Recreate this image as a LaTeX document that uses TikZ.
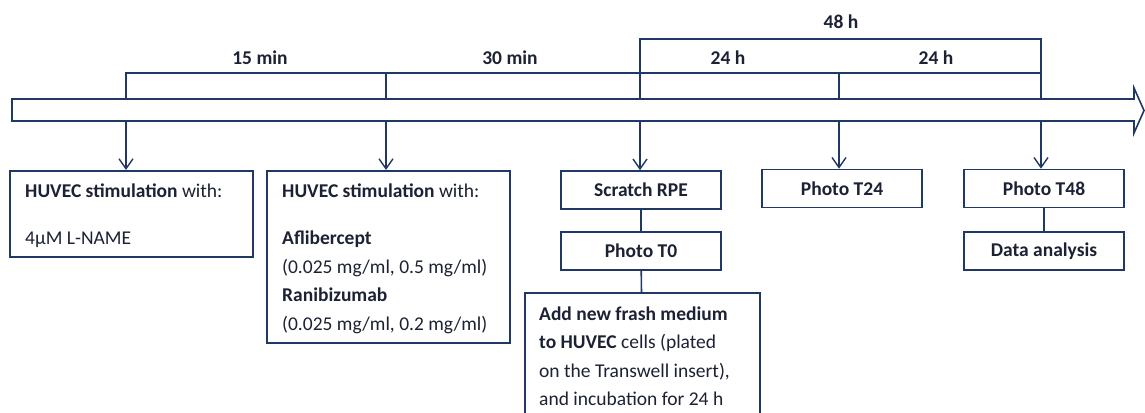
\documentclass[tikz,border=0pt]{standalone}
\usepackage{fontspec}
\setmainfont{Carlito}
\usetikzlibrary{arrows.meta}
\definecolor{navy}{HTML}{1F3864}
\definecolor{ink}{HTML}{1C2233}
\tikzset{
  line/.style={draw=navy, line width=1.6pt},
  tip/.style={line, -{Straight Barb[length=10pt,width=14pt,line width=1.4pt]}},
  box/.style={draw=navy, line width=1.6pt, inner sep=0pt, fill=white},
  lbl/.style={text=ink, font=\fontsize{19.5}{22}\selectfont, inner sep=0pt},
  bl/.style={lbl, font=\fontsize{19.5}{22}\selectfont\bfseries},
}
\begin{document}
\begin{tikzpicture}[x=1pt,y=-1pt]
\useasboundingbox (0,0) rectangle (1145,412);
\clip (0,0) rectangle (1145,412);
% timeline block arrow
\draw[line, fill=white] (12,99) -- (1134,99) -- (1134,88) -- (1144,110.5) -- (1134,133) -- (1134,121) -- (12,121) -- cycle;
% timeline points
\foreach \n/\x in {1/126,2/386,3/640,4/839,5/1041}{
  \coordinate (top\n) at (\x,99);
  \coordinate (bot\n) at (\x,121);
  \coordinate (br\n) at (\x,73);
}
\coordinate (hA) at (640,39);
\coordinate (hB) at (1041,39);
% brackets
\draw[line] (top1) -- (br1) -- (br5) -- (top5);
\draw[line] (br2) -- (top2);
\draw[line] (br4) -- (top4);
\draw[line] (top3) -- (br3) -- (hA) -- (hB) -- (br5);
% durations
\node[bl] (d1) at (260,58) {15 min};
\node[bl] (d2) at (510,58) {30 min};
\node[bl] (d3) at (728,58) {24 h};
\node[bl] (d4) at (936,58) {24 h};
\node[bl] (d5) at (841,22) {48 h};
% boxes
\node[box, minimum width=243pt, minimum height=86.5pt] (b1) at (131.7,214) {};
\node[box, minimum width=243pt, minimum height=172.5pt] (b2) at (388.7,257) {};
\node[box, minimum width=160pt, minimum height=38pt] (s1) at (641,190) {};
\node[box, minimum width=160pt, minimum height=38pt] (s2) at (641,251) {};
\node[box, minimum width=235pt, minimum height=140pt] (s3) at (642.3,363) {};
\node[box, minimum width=160pt, minimum height=38pt] (p24) at (842,188.5) {};
\node[box, minimum width=160pt, minimum height=38pt] (p48) at (1044,188.5) {};
\node[box, minimum width=160pt, minimum height=38pt] (da) at (1044,251) {};
% box texts
\node[lbl, anchor=base west] (b1a) at (25,197) {\textbf{HUVEC stimulation} with:};
\node[lbl, anchor=base west] (b1b) at (25,244) {4μM L-NAME};
\node[lbl, anchor=base west] (b2a) at (282,197) {\textbf{HUVEC stimulation} with:};
\node[lbl, anchor=base west] (b2b) at (282,244) {\textbf{Aflibercept}};
\node[lbl, anchor=base west] (b2c) at (282,273) {(0.025 mg/ml, 0.5 mg/ml)};
\node[lbl, anchor=base west] (b2d) at (282,301.5) {\textbf{Ranibizumab}};
\node[lbl, anchor=base west] (b2e) at (282,330) {(0.025 mg/ml, 0.2 mg/ml)};
\node[bl] at (s1) {Scratch RPE};
\node[bl] at (s2) {Photo T0};
\node[bl] at (p24) {Photo T24};
\node[bl] at (p48) {Photo T48};
\node[bl] at (da) {Data analysis};
\node[lbl, anchor=base west] (s3a) at (539,320) {\textbf{Add new frash medium}};
\node[lbl, anchor=base west] (s3b) at (539,348.5) {\textbf{to HUVEC} cells (plated};
\node[lbl, anchor=base west] (s3c) at (539,377) {on the Transwell insert),};
\node[lbl, anchor=base west] (s3d) at (539,405) {and incubation for 24 h};
% down arrows
\draw[tip] (bot1) -- (b1.north -| bot1);
\draw[tip] (bot2) -- (b2.north -| bot2);
\draw[tip] (bot3) -- (s1.north -| bot3);
\draw[tip] (bot4) -- (p24.north -| bot4);
\draw[tip] (bot5) -- (p48.north -| bot5);
% chain links
\draw[line] (s1) -- (s2);
\draw[line] (s2) -- (s3);
\draw[line] (p48) -- (da);
\end{tikzpicture}
\end{document}
